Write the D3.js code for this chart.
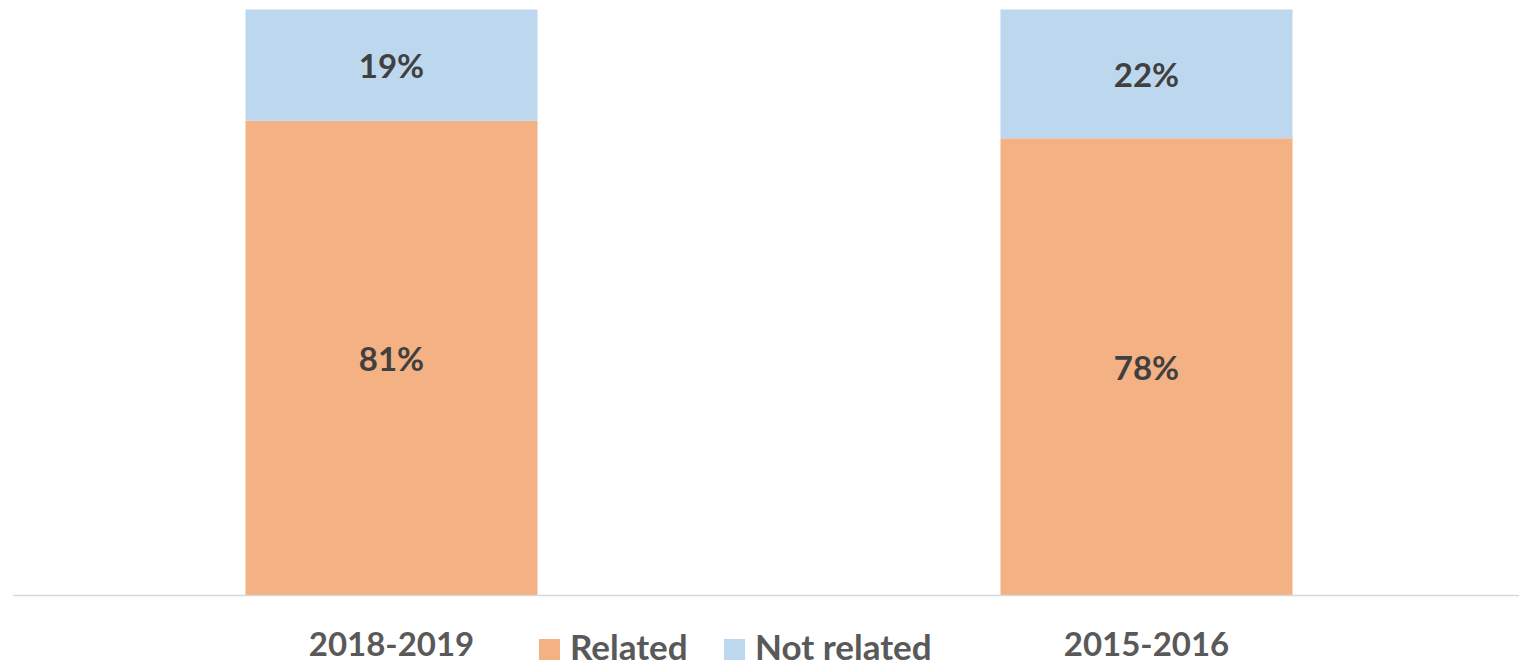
<!DOCTYPE html>
<html>
<head>
<meta charset="utf-8">
<script src="https://cdn.jsdelivr.net/npm/d3@7"></script>
<style>
  html, body { margin: 0; padding: 0; background: #fff; }
  svg { display: block; }
  text { font-family: Lato, "Open Sans", sans-serif; font-weight: 700; }
</style>
</head>
<body>
<svg id="chart" width="1519" height="662"></svg>
<script>
// Survey periods and share of responses (percent)
const categories = ["2018-2019", "2015-2016"];
const seriesNames = ["Related", "Not related"];
const related = [81, 78];
const notRelated = [19, 22];
const colors = ["#F4B183", "#BDD7EE"];

const svg = d3.select("#chart");
const W = 1519, H = 662;
const plot = { left: 14, right: 1524, top: 9.5, bottom: 595 };

const x = d3.scaleBand()
  .domain(categories)
  .range([plot.left, plot.right])
  .paddingInner(0.6132)
  .paddingOuter(0.3066);

const y = d3.scaleLinear().domain([0, 100]).range([plot.bottom, plot.top]);

const rows = categories.map((c, i) => ({ cat: c, "Related": related[i], "Not related": notRelated[i] }));
const stacked = d3.stack().keys(seriesNames)(rows);

const layers = svg.append("g").selectAll("g")
  .data(stacked)
  .join("g")
  .attr("fill", (d, i) => colors[i]);

layers.selectAll("rect")
  .data(d => d)
  .join("rect")
  .attr("x", d => x(d.data.cat))
  .attr("width", x.bandwidth())
  .attr("y", d => y(d[1]))
  .attr("height", d => y(d[0]) - y(d[1]));

// value labels centred in each segment
layers.selectAll("text")
  .data(d => d.map(v => ({ v, key: d.key })))
  .join("text")
  .attr("x", d => x(d.v.data.cat) + x.bandwidth() / 2)
  .attr("y", d => (y(d.v[0]) + y(d.v[1])) / 2)
  .attr("text-anchor", "middle")
  .attr("dominant-baseline", "central")
  .attr("fill", "#404040")
  .attr("font-size", 33)
  .text(d => (d.v[1] - d.v[0]) + "%");

// category axis
const xAxis = svg.append("g")
  .attr("transform", `translate(0,${plot.bottom + 0.5})`)
  .call(d3.axisBottom(x).tickSize(0).tickPadding(0));
xAxis.select(".domain").attr("stroke", "#D9D9D9").attr("stroke-width", 1.5)
  .attr("d", `M13,0H${W}`);
xAxis.selectAll(".tick text")
  .attr("dy", null)
  .attr("y", 60)
  .attr("fill", "#595959")
  .attr("font-size", 33)
  .attr("font-family", "Lato, sans-serif")
  .attr("font-weight", 700);

// legend
const legend = svg.append("g").attr("transform", "translate(539,639)");
const legendX = [0, 185];
const items = legend.selectAll("g")
  .data(seriesNames)
  .join("g")
  .attr("transform", (d, i) => `translate(${legendX[i]},0)`);
items.append("rect")
  .attr("width", 21).attr("height", 21)
  .attr("fill", (d, i) => colors[i]);
items.append("text")
  .attr("x", 31)
  .attr("y", 21)
  .attr("fill", "#595959")
  .attr("font-size", 35)
  .text(d => d);
</script>
</body>
</html>
